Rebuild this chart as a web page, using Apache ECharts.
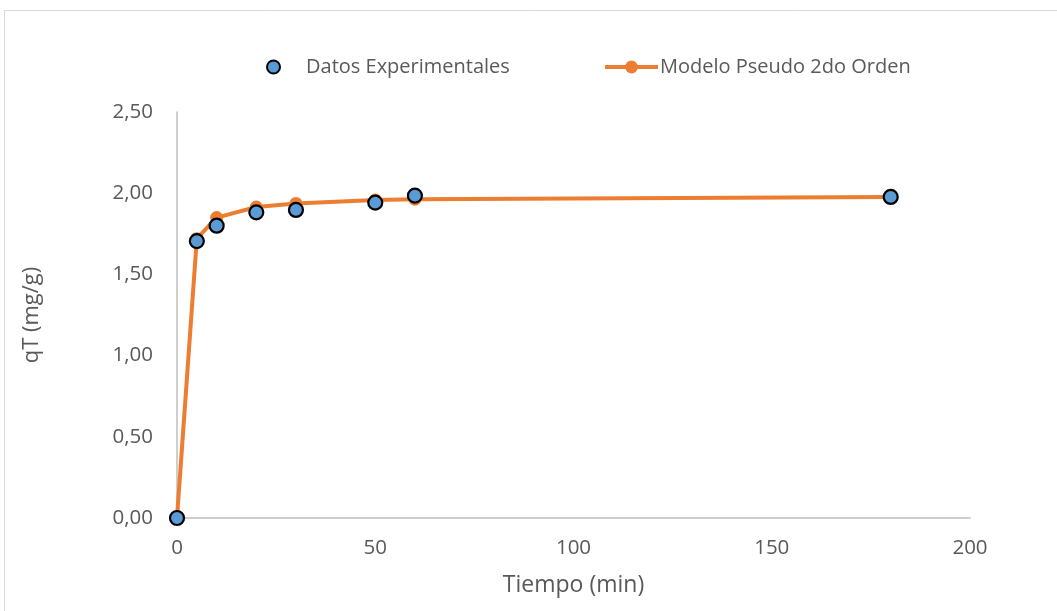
<!DOCTYPE html>
<html>
<head>
<meta charset="utf-8">
<script src="https://cdn.jsdelivr.net/npm/echarts@6/dist/echarts.min.js"></script>
<style>
  html, body { margin: 0; padding: 0; background: #fff; }
  #chart { width: 1057px; height: 611px; }
</style>
</head>
<body>
<div id="chart"></div>
<script>
// Tiempo (min)
const tiempo = [0, 5, 10, 20, 30, 50, 60, 180];
// Measured qT (mg/g)
const datosExperimentales = [0, 1.705, 1.80, 1.882, 1.897, 1.942, 1.985, 1.977];
// Pseudo-second-order fit
const modeloPseudo2 = [0, 1.72, 1.85, 1.915, 1.937, 1.958, 1.963, 1.976];
const xTicks = [0, 50, 100, 150, 200];
const yTicks = [0, 0.5, 1.0, 1.5, 2.0, 2.5];

const pairs = (xs, ys) => xs.map((x, i) => [x, ys[i]]);
const fmt = v => v.toFixed(2).replace('.', ',');

const font = '"Open Sans", "Noto Sans", sans-serif';
const textColor = '#595959';

const chart = echarts.init(document.getElementById('chart'));
chart.setOption({
  animation: false,
  backgroundColor: '#fff',
  graphic: [{
    type: 'rect',
    shape: { x: 4.5, y: 10.5, width: 1100, height: 700 },
    style: { fill: null, stroke: '#d9d9d9', lineWidth: 1 },
    silent: true
  }],
  grid: { left: 177, right: 87, top: 112, bottom: 93 },
  legend: [{
    left: 266, top: 57, padding: 0,
    data: ['Datos Experimentales'],
    itemWidth: 13, itemHeight: 13,
    textStyle: { fontFamily: font, fontSize: 20, color: textColor, padding: [0, 0, 0, 21] }
  }, {
    left: 603, top: 57, padding: 0,
    data: ['Modelo Pseudo 2do Orden'],
    itemWidth: 53, itemHeight: 16,
    lineStyle: { width: 4 },
    textStyle: { fontFamily: font, fontSize: 20, color: textColor, padding: [0, 0, 0, -3] }
  }],
  xAxis: {
    type: 'value',
    min: xTicks[0], max: xTicks[xTicks.length - 1], interval: 50,
    name: 'Tiempo (min)',
    nameLocation: 'middle', nameGap: 56,
    nameTextStyle: { fontFamily: font, fontSize: 23, color: textColor },
    axisLine: { show: true, lineStyle: { color: '#bfbfbf', width: 1.5 } },
    axisTick: { show: false },
    splitLine: { show: false },
    axisLabel: { fontFamily: font, fontSize: 20.5, color: textColor, margin: 20 }
  },
  yAxis: {
    type: 'value',
    min: yTicks[0], max: yTicks[yTicks.length - 1], interval: 0.5,
    name: 'qT (mg/g)',
    nameLocation: 'middle', nameGap: 134, nameRotate: 90,
    nameTextStyle: { fontFamily: font, fontSize: 22, color: textColor },
    axisLine: { show: true, lineStyle: { color: '#bfbfbf', width: 1.5 } },
    axisTick: { show: false },
    splitLine: { show: false },
    axisLabel: { fontFamily: font, fontSize: 20.5, color: textColor, margin: 24, formatter: fmt }
  },
  series: [{
    name: 'Modelo Pseudo 2do Orden',
    type: 'line',
    data: pairs(tiempo, modeloPseudo2),
    symbol: 'circle', symbolSize: 13,
    lineStyle: { color: '#ed7d31', width: 4 },
    itemStyle: { color: '#ed7d31' },
    z: 2
  }, {
    name: 'Datos Experimentales',
    type: 'scatter',
    data: pairs(tiempo, datosExperimentales),
    symbol: 'circle', symbolSize: 14,
    itemStyle: { color: '#5b9bd5', borderColor: '#000', borderWidth: 2.2, opacity: 1 },
    z: 3
  }]
});
</script>
</body>
</html>
